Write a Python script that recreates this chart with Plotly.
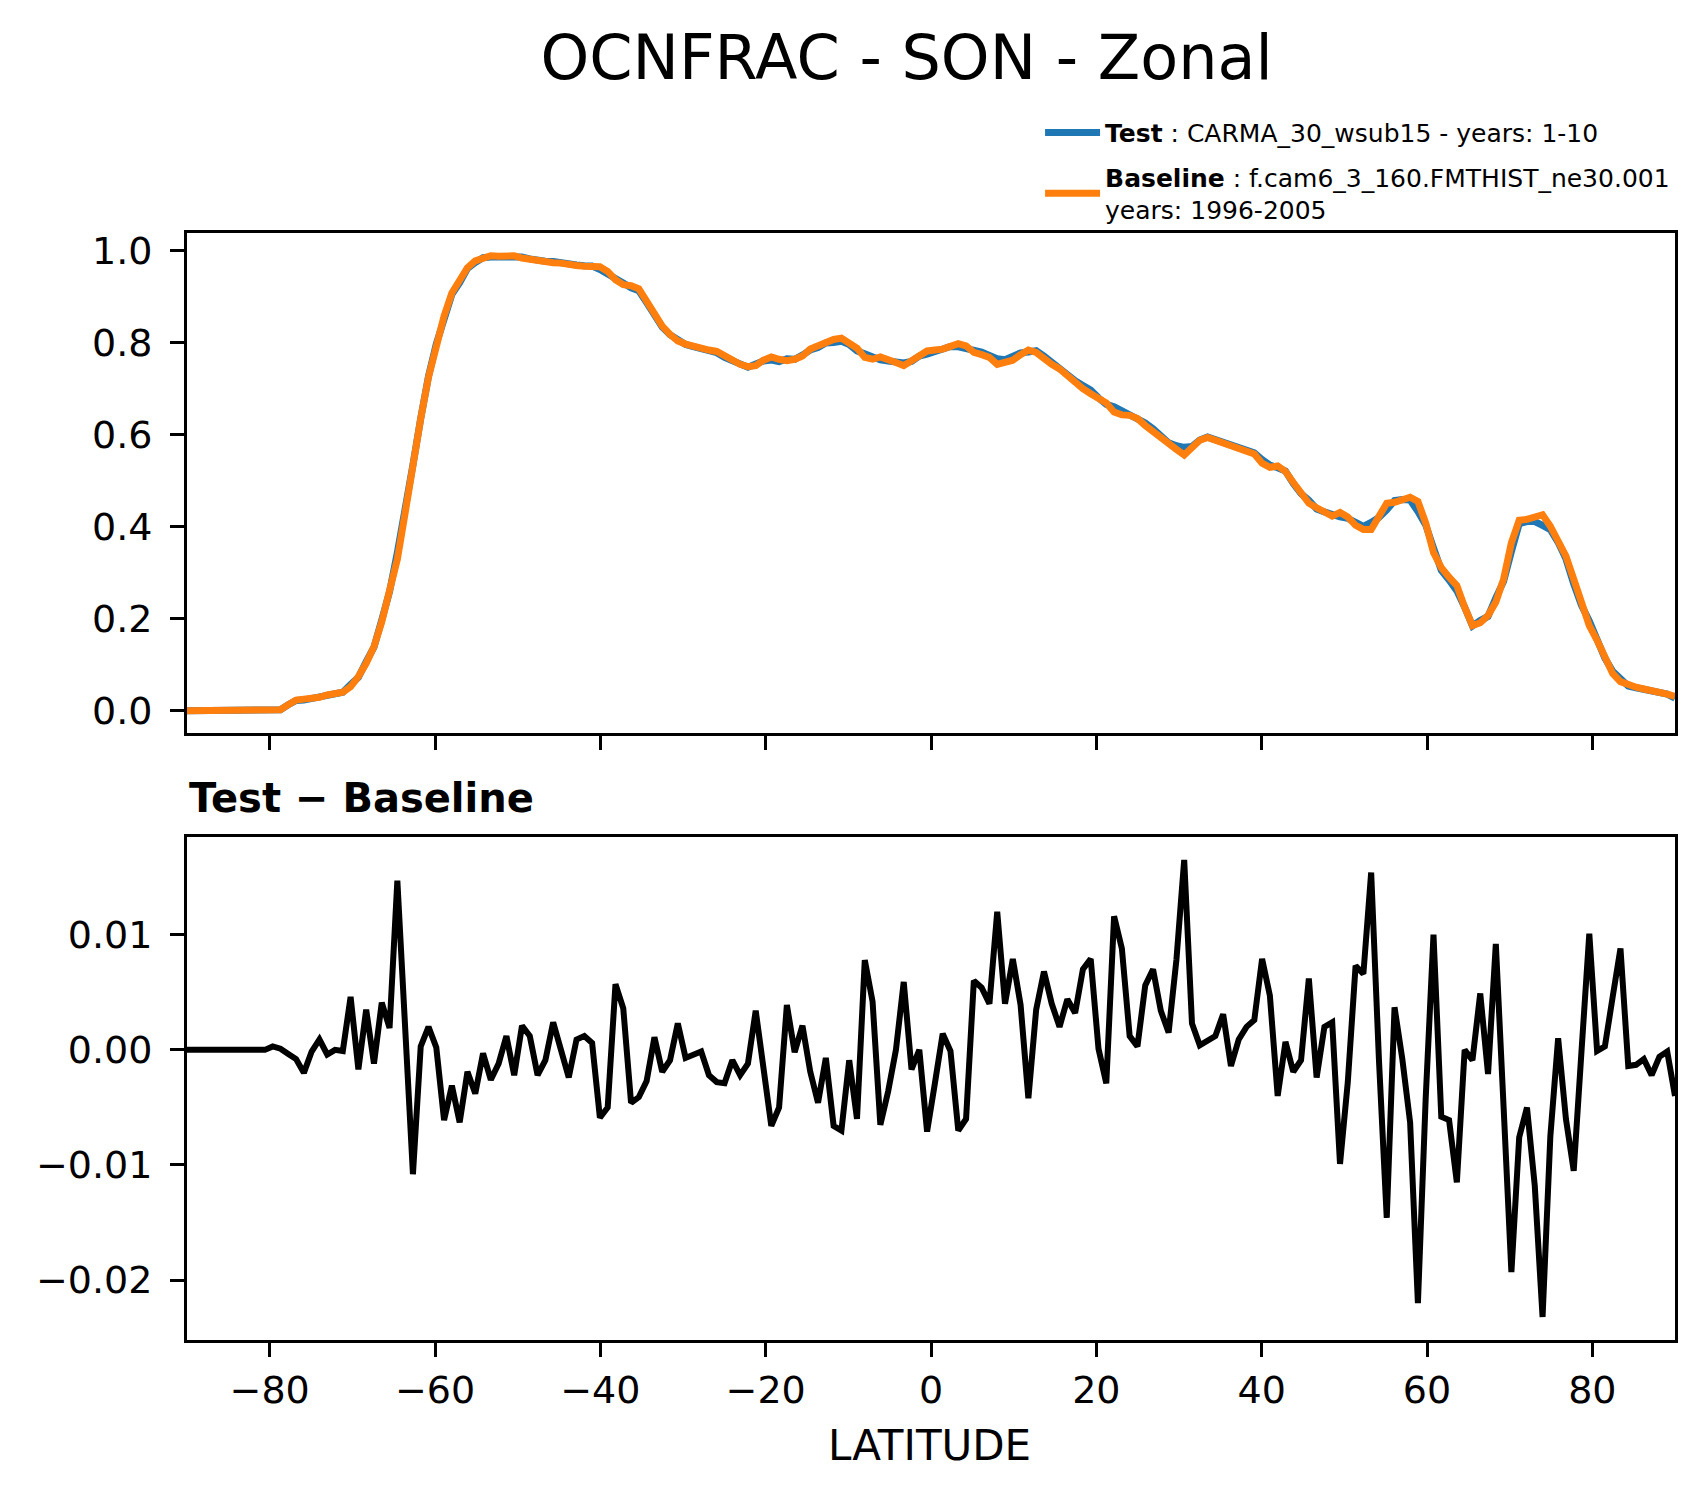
import numpy as np
import plotly.graph_objects as go

# 192-point latitude grid (0.9x1.25 style)
lat = np.linspace(-90, 90, 192)

# baseline zonal OCNFRAC
baseline = [
    0, 0, 0, 0, 0, 0, 0, 0, 0, 0,
    0, 0, 0.002, 0.013, 0.023, 0.025, 0.026, 0.029, 0.034, 0.037,
    0.040, 0.052, 0.074, 0.103, 0.139, 0.193, 0.257, 0.329, 0.430, 0.545,
    0.635, 0.725, 0.797, 0.858, 0.908, 0.937, 0.963, 0.978, 0.985, 0.989,
    0.988, 0.987, 0.989, 0.984, 0.981, 0.981, 0.978, 0.974, 0.973, 0.972,
    0.968, 0.966, 0.966, 0.965, 0.955, 0.937, 0.926, 0.924, 0.917, 0.890,
    0.858, 0.836, 0.818, 0.804, 0.797, 0.792, 0.786, 0.784, 0.781, 0.771,
    0.761, 0.753, 0.748, 0.750, 0.762, 0.769, 0.764, 0.761, 0.764, 0.771,
    0.786, 0.794, 0.800, 0.807, 0.810, 0.797, 0.788, 0.768, 0.764, 0.769,
    0.764, 0.757, 0.750, 0.761, 0.771, 0.782, 0.784, 0.786, 0.792, 0.798,
    0.793, 0.779, 0.774, 0.768, 0.753, 0.759, 0.762, 0.774, 0.784, 0.779,
    0.764, 0.753, 0.743, 0.728, 0.714, 0.700, 0.689, 0.680, 0.669, 0.649,
    0.643, 0.642, 0.635, 0.620, 0.606, 0.594, 0.581, 0.568, 0.556, 0.572,
    0.588, 0.594, 0.588, 0.581, 0.579, 0.572, 0.566, 0.558, 0.538, 0.529,
    0.532, 0.520, 0.496, 0.473, 0.451, 0.441, 0.430, 0.423, 0.431, 0.421,
    0.403, 0.394, 0.394, 0.421, 0.451, 0.453, 0.460, 0.464, 0.455, 0.408,
    0.344, 0.311, 0.290, 0.272, 0.225, 0.185, 0.191, 0.207, 0.236, 0.286,
    0.365, 0.414, 0.416, 0.423, 0.426, 0.401, 0.365, 0.336, 0.286, 0.229,
    0.185, 0.153, 0.114, 0.081, 0.063, 0.055, 0.051, 0.047, 0.044, 0.040,
    0.036, 0.031,
]

# Test - Baseline, in units of 1e-3
diff_milli = [
    0, 0, 0, 0, 0, 0, 0, 0, 0, 0,
    0, 0.3, 0.1, -0.35, -0.8, -2.0, -0.15, 0.9, -0.4, 0.0,
    -0.1, 4.6, -1.7, 3.5, -1.2, 4.1, 1.9, 14.7, 2.3, -10.8,
    0.3, 2.0, 0.2, -6.1, -3.1, -6.3, -1.9, -3.8, -0.3, -2.6,
    -1.2, 1.2, -2.2, 2.1, 1.2, -2.2, -0.9, 2.4, 0.0, -2.4,
    0.9, 1.2, 0.6, -5.9, -5.0, 5.7, 3.6, -4.6, -4.1, -2.7,
    1.1, -1.9, -0.9, 2.3, -0.7, -0.4, -0.15, -2.2, -2.8, -2.9,
    -0.9, -2.2, -1.2, 3.4, -1.6, -6.6, -5.0, 3.9, -0.2, 2.1,
    -1.9, -4.6, -0.7, -6.6, -7.0, -0.9, -6.0, 7.8, 4.2, -6.5,
    -3.6, 0.0, 5.9, -1.7, 0.0, -7.1, -2.9, 1.4, -0.1, -7.0,
    -6.0, 6.0, 5.4, 4.0, 12.0, 4.0, 7.9, 3.9, -4.2, 3.5,
    6.8, 4.0, 2.0, 4.4, 3.2, 7.0, 7.9, 0.1, -2.9, 11.6,
    8.8, 1.2, 0.3, 5.6, 7.0, 3.4, 1.5, 7.8, 16.5, 2.3,
    0.4, 0.8, 1.2, 3.1, -1.4, 0.9, 2.0, 2.6, 7.9, 4.7,
    -4.0, 0.7, -1.9, -0.9, 6.2, -2.4, 2.0, 2.4, -9.9, -2.8,
    7.3, 6.6, 15.4, -0.9, -14.6, 3.7, -0.8, -6.3, -22.0, -4.2,
    10.0, -5.8, -6.1, -11.5, 0.0, -0.9, 4.9, -2.1, 9.2, -5.0,
    -19.3, -7.6, -5.0, -11.8, -23.2, -7.5, 1.0, -6.0, -10.5, -0.1,
    10.1, -0.1, 0.3, 4.6, 8.8, -1.4, -1.3, -0.8, -2.2, -0.6,
    -0.15, -4.0,
]

xticks = [-80, -60, -40, -20, 0, 20, 40, 60, 80]
yticks_top = [0.0, 0.2, 0.4, 0.6, 0.8, 1.0]
yticks_bot = [-0.02, -0.01, 0.0, 0.01]

diff = np.array(diff_milli) * 1e-3
test = np.array(baseline) + diff

FONT = "DejaVu Sans"

fig = go.Figure()

fig.add_trace(go.Scatter(x=lat, y=test, mode='lines', legendgroup='test',
                         name='<b>Test</b> : CARMA_30_wsub15 - years: 1-10',
                         line=dict(color='#1f77b4', width=7),
                         xaxis='x', yaxis='y'))
fig.add_trace(go.Scatter(x=lat, y=baseline, mode='lines', legendgroup='base',
                         name='<b>Baseline</b> : f.cam6_3_160.FMTHIST_ne30.001<br>years: 1996-2005',
                         line=dict(color='#ff7f0e', width=7),
                         xaxis='x', yaxis='y'))
fig.add_trace(go.Scatter(x=lat, y=diff, mode='lines', showlegend=False,
                         line=dict(color='black', width=6),
                         xaxis='x2', yaxis='y2'))

axis_style = dict(showline=True, mirror=True, linecolor='black', linewidth=3,
                  ticks='outside', ticklen=14, tickwidth=3, tickcolor='black',
                  showgrid=False, zeroline=False,
                  tickfont=dict(family=FONT, size=38, color='black'))

# page body has an 8px margin, so the figure is 8px smaller than the window
fig.update_layout(
    width=1696, height=1488,
    margin=dict(l=179, r=29, t=225, b=156),
    paper_bgcolor='white', plot_bgcolor='white',
    font=dict(family=FONT, color='black'),
    title=dict(text='OCNFRAC - SON - Zonal', font=dict(family=FONT, size=62),
               xref='paper', x=0.4836, xanchor='center',
               yref='container', y=1 - 49 / 1488, yanchor='middle'),
    xaxis=dict(domain=[0, 1], anchor='y', range=[-90, 90], tickvals=xticks,
               showticklabels=False, **axis_style),
    yaxis=dict(domain=[0.548, 1], anchor='x', range=[-0.0494, 1.0385],
               tickvals=yticks_top, tickformat='.1f', ticklabelstandoff=10,
               **axis_style),
    xaxis2=dict(domain=[0, 1], anchor='y2', range=[-90, 90], tickvals=xticks,
                **axis_style),
    yaxis2=dict(domain=[0, 0.4545], anchor='x2', range=[-0.0252, 0.0185],
                tickvals=yticks_bot, tickformat='.2f', ticklabelstandoff=10,
                **axis_style),
    legend=dict(x=0.5733, y=1.1113, xanchor='left', yanchor='top',
                font=dict(family=FONT, size=25, color='black'),
                bgcolor='rgba(0,0,0,0)', tracegroupgap=9, itemwidth=55),
    annotations=[
        dict(text='<b>Test \u2212 Baseline</b>', xref='paper', yref='paper',
             x=0.0, y=0.490, xanchor='left', yanchor='middle', showarrow=False,
             font=dict(family=FONT, size=40, color='black')),
        dict(text='LATITUDE', xref='paper', yref='paper',
             x=0.499, y=-0.0952, xanchor='center', yanchor='middle', showarrow=False,
             font=dict(family=FONT, size=42, color='black')),
    ],
)

fig.write_html("out.html")
